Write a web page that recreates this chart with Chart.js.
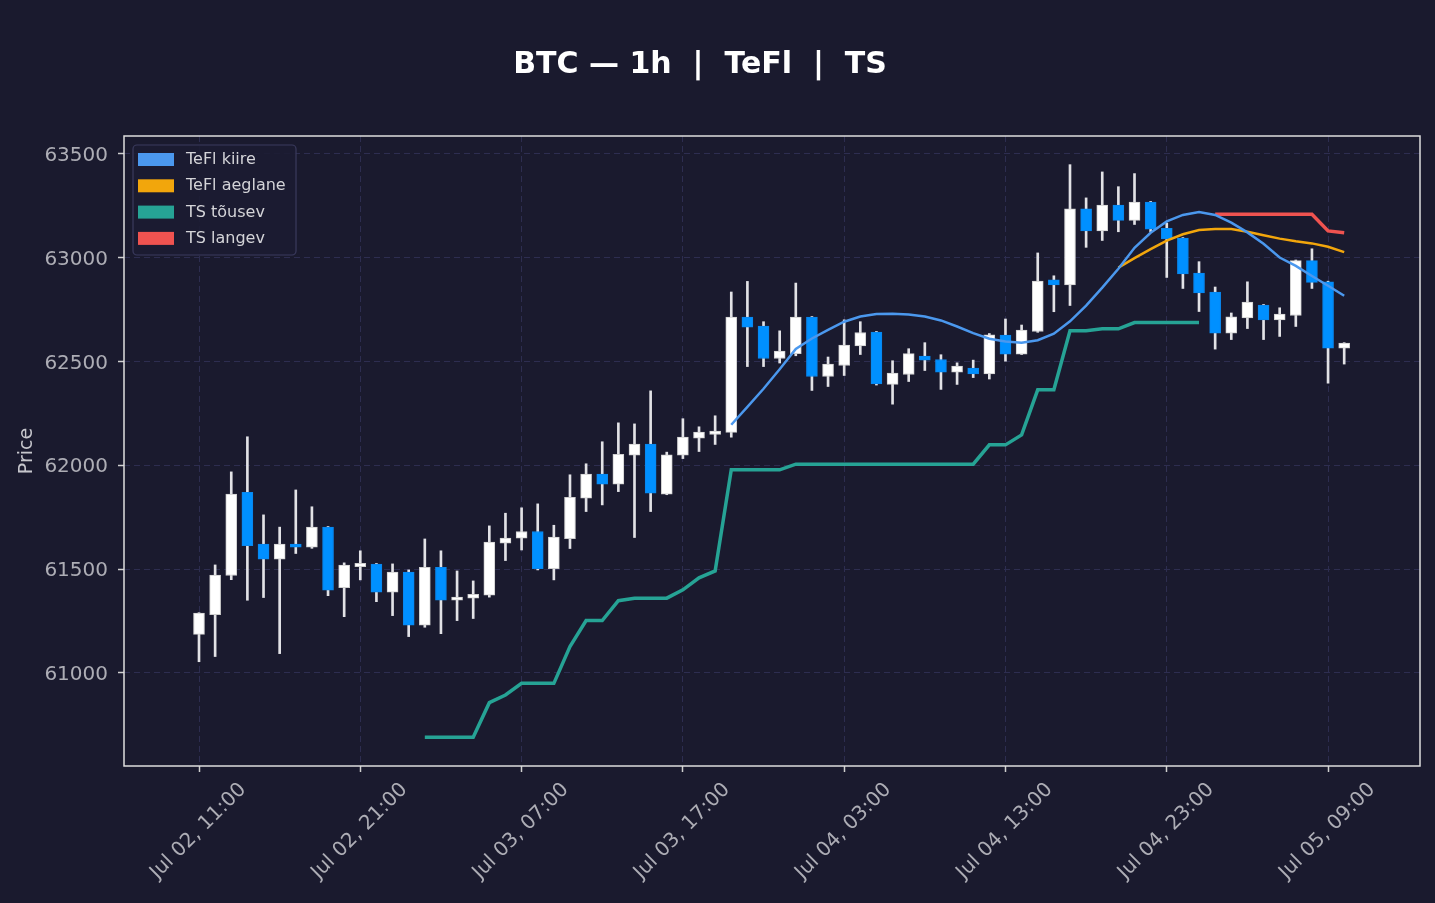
<!DOCTYPE html>
<html>
<head>
<meta charset="utf-8">
<title>BTC 1h TeFl TS</title>
<script src="https://cdn.jsdelivr.net/npm/chart.js@4.4.1/dist/chart.umd.min.js"></script>
<style>
    html, body { margin: 0; padding: 0; background: #1a1a2e; }
    #wrap { width: 1435px; height: 903px; position: relative; }
</style>
</head>
<body>
<div id="wrap"><canvas id="btcChart"></canvas></div>
<script>
// hours after Jul 02, 11:00
const hours = [0, 1, 2, 3, 4, 5, 6, 7, 8, 9, 10, 11, 12, 13, 14, 15, 16, 17, 18, 19,
    20, 21, 22, 23, 24, 25, 26, 27, 28, 29, 30, 31, 32, 33, 34, 35, 36, 37, 38, 39,
    40, 41, 42, 43, 44, 45, 46, 47, 48, 49, 50, 51, 52, 53, 54, 55, 56, 57, 58, 59,
    60, 61, 62, 63, 64, 65, 66, 67, 68, 69, 70, 71];

const openVals = [61186, 61281, 61469, 61870, 61620, 61548, 61620, 61605, 61702, 61411,
    61512, 61524, 61389, 61485, 61230, 61509, 61350, 61360, 61374, 61625,
    61649, 61681, 61502, 61647, 61842, 61957, 61909, 62049, 62102, 61861,
    62049, 62130, 62148, 62158, 62713, 62670, 62514, 62537, 62713, 62427,
    62480, 62574, 62641, 62389, 62437, 62526, 62509, 62448, 62468, 62439,
    62627, 62535, 62644, 62892, 62868, 63234, 63128, 63253, 63179, 63267,
    63141, 63094, 62925, 62834, 62636, 62709, 62771, 62699, 62721, 62985,
    62883, 62564];
const highVals = [61290, 61520, 61968, 62137, 61761, 61702, 61881, 61800, 61705, 61530,
    61588, 61527, 61525, 61496, 61645, 61588, 61491, 61443, 61708, 61769,
    61795, 61814, 61711, 61954, 62007, 62113, 62204, 62199, 62358, 62063,
    62224, 62185, 62238, 62834, 62885, 62691, 62647, 62877, 62716, 62521,
    62700, 62691, 62644, 62503, 62561, 62590, 62532, 62493, 62506, 62634,
    62704, 62675, 63022, 62912, 63447, 63287, 63412, 63341, 63404, 63270,
    63166, 63096, 62980, 62858, 62733, 62883, 62774, 62758, 62988, 63042,
    62886, 62590];
const lowVals = [61054, 61079, 61449, 61350, 61363, 61093, 61575, 61600, 61372, 61271,
    61448, 61343, 61276, 61175, 61220, 61189, 61252, 61262, 61365, 61541,
    61592, 61496, 61448, 61599, 61777, 61809, 61873, 61652, 61777, 61858,
    62032, 62066, 62100, 62135, 62475, 62475, 62492, 62527, 62360, 62379,
    62432, 62533, 62386, 62294, 62403, 62456, 62365, 62389, 62422, 62415,
    62501, 62533, 62640, 62739, 62769, 63049, 63082, 63124, 63159, 63124,
    62904, 62851, 62740, 62559, 62605, 62658, 62605, 62620, 62668, 62851,
    62395, 62487];
const closeVals = [61288, 61471, 61861, 61613, 61548, 61620, 61605, 61702, 61398, 61519,
    61528, 61389, 61485, 61230, 61509, 61350, 61365, 61379, 61630, 61649,
    61681, 61502, 61654, 61846, 61957, 61909, 62053, 62102, 61866, 62050,
    62135, 62159, 62164, 62713, 62665, 62514, 62550, 62713, 62427, 62487,
    62578, 62639, 62391, 62444, 62537, 62506, 62448, 62477, 62439, 62628,
    62535, 62651, 62887, 62868, 63234, 63128, 63253, 63179, 63267, 63137,
    63090, 62921, 62829, 62636, 62715, 62786, 62699, 62728, 62985, 62880,
    62564, 62588];

const teflFast = [null, null, null, null, null, null, null, null, null, null,
    null, null, null, null, null, null, null, null, null, null,
    null, null, null, null, null, null, null, null, null, null,
    null, null, null, 62195, 62281, 62368, 62462, 62560, 62610, 62652,
    62691, 62716, 62728, 62729, 62726, 62716, 62697, 62668, 62636, 62609,
    62596, 62590, 62602, 62633, 62693, 62768, 62855, 62946, 63047, 63119,
    63174, 63205, 63219, 63205, 63168, 63121, 63066, 63000, 62960, 62911,
    62864, 62816];
const teflSlow = [null, null, null, null, null, null, null, null, null, null,
    null, null, null, null, null, null, null, null, null, null,
    null, null, null, null, null, null, null, null, null, null,
    null, null, null, null, null, null, null, null, null, null,
    null, null, null, null, null, null, null, null, null, null,
    null, null, null, null, null, null, null, 62951, 62997, 63040,
    63081, 63112, 63132, 63137, 63137, 63124, 63107, 63091, 63078, 63068,
    63052, 63026];
const tsUp = [null, null, null, null, null, null, null, null, null, null,
    null, null, null, null, 60690, 60690, 60690, 60690, 60857, 60894,
    60950, 60950, 60950, 61127, 61252, 61252, 61348, 61360, 61360, 61360,
    61400, 61458, 61491, 61978, 61978, 61978, 61978, 62005, 62005, 62005,
    62005, 62005, 62005, 62005, 62005, 62005, 62005, 62005, 62005, 62098,
    62098, 62146, 62363, 62363, 62647, 62647, 62657, 62657, 62687, 62687,
    62687, 62687, 62687, null, null, null, null, null, null, null,
    null, null];
const tsDown = [null, null, null, null, null, null, null, null, null, null,
    null, null, null, null, null, null, null, null, null, null,
    null, null, null, null, null, null, null, null, null, null,
    null, null, null, null, null, null, null, null, null, null,
    null, null, null, null, null, null, null, null, null, null,
    null, null, null, null, null, null, null, null, null, null,
    null, null, null, 63208, 63208, 63208, 63208, 63208, 63208, 63208,
    63128, 63119];

const seriesNames = ['TeFl kiire', 'TeFl aeglane', 'TS tõusev', 'TS langev'];
const seriesColors = ['#4b98ee', '#f2a60c', '#26a395', '#ef5350'];
const yTicks = [61000, 61500, 62000, 62500, 63000, 63500];
const xTickHours = [0, 10, 20, 30, 40, 50, 60, 70];
const months = ['Jan', 'Feb', 'Mar', 'Apr', 'May', 'Jun', 'Jul', 'Aug', 'Sep', 'Oct', 'Nov', 'Dec'];
const chartTitle = 'BTC — 1h  |  TeFl  |  TS';

function pad(n) {
    return n < 10 ? '0' + n : '' + n;
}

function hourLabel(h) {
    const total = 11 + h;
    const day = 2 + Math.floor(total / 24);
    return months[6] + ' ' + pad(day) + ', ' + pad(total % 24) + ':00';
}

function toPoints(values) {
    return hours.map((h, i) => ({ x: h, y: values[i] }));
}

const bodyData = hours.map((h, i) => ({ x: h, y: [openVals[i], closeVals[i]] }));
const wickData = hours.map((h, i) => ({ x: h, y: [lowVals[i], highVals[i]] }));
const bodyFill = hours.map((h, i) => closeVals[i] >= openVals[i] ? '#ffffff' : '#0090ff');
const bodyEdge = hours.map((h, i) => closeVals[i] >= openVals[i] ? '#cfcfcf' : '#0a86ec');

// title, frame and boxed legend inside the plot
const decorPlugin = {
    id: 'decor',
    afterDraw(chart) {
        const ctx = chart.ctx;
        const area = chart.chartArea;
        ctx.save();

        ctx.strokeStyle = '#dedede';
        ctx.lineWidth = 1.5;
        ctx.strokeRect(area.left, area.top, area.right - area.left, area.bottom - area.top);

        ctx.fillStyle = '#ffffff';
        ctx.font = 'bold 30px "DejaVu Sans"';
        ctx.textAlign = 'center';
        ctx.textBaseline = 'alphabetic';
        ctx.fillText(chartTitle, 700, 73);

        const bx = area.left + 9, by = area.top + 9, bw = 163, bh = 110;
        ctx.beginPath();
        ctx.roundRect(bx, by, bw, bh, 4);
        ctx.fillStyle = 'rgba(28, 28, 50, 0.9)';
        ctx.fill();
        ctx.strokeStyle = '#3b3b5e';
        ctx.lineWidth = 1.2;
        ctx.stroke();

        ctx.font = '16px "DejaVu Sans"';
        ctx.textAlign = 'left';
        ctx.textBaseline = 'middle';
        seriesNames.forEach((name, i) => {
            const cy = by + 14.5 + i * 26.3;
            ctx.fillStyle = seriesColors[i];
            ctx.fillRect(bx + 5, cy - 6.5, 36, 13);
            ctx.fillStyle = '#d4d4d8';
            ctx.fillText(name, bx + 53, cy + 0.5);
        });

        ctx.restore();
    }
};

Chart.defaults.font.family = '"DejaVu Sans", sans-serif';

const lineSets = [teflFast, teflSlow, tsUp, tsDown].map((values, i) => ({
    type: 'line',
    label: seriesNames[i],
    data: toPoints(values),
    borderColor: seriesColors[i],
    borderWidth: i < 2 ? 2.5 : 3.5,
    pointRadius: 0,
    fill: false,
    tension: 0,
    order: 0
}));

new Chart(document.getElementById('btcChart'), {
    type: 'bar',
    data: {
        datasets: lineSets.concat([
            {
                type: 'bar',
                label: 'body',
                data: bodyData,
                backgroundColor: bodyFill,
                borderColor: bodyEdge,
                borderWidth: 1,
                borderSkipped: false,
                barThickness: 11,
                minBarLength: 2,
                grouped: false,
                order: 1
            },
            {
                type: 'bar',
                label: 'wick',
                data: wickData,
                backgroundColor: '#e2e2e6',
                borderWidth: 0,
                barThickness: 2,
                grouped: false,
                order: 2
            }
        ])
    },
    options: {
        responsive: true,
        maintainAspectRatio: false,
        animation: false,
        layout: { padding: { top: 136, right: 15, left: 0, bottom: 0 } },
        plugins: {
            legend: { display: false },
            title: { display: false },
            tooltip: { enabled: false }
        },
        scales: {
            x: {
                type: 'linear',
                offset: false,
                min: -4.65,
                max: 75.7,
                afterBuildTicks: scale => { scale.ticks = xTickHours.map(v => ({ value: v })); },
                afterFit: scale => { scale.height = 137; },
                grid: {
                    offset: false,
                    color: '#2d2d50',
                    lineWidth: 1,
                    tickLength: 6,
                    tickColor: '#cfcfcf',
                    tickWidth: 1.5
                },
                border: { display: false, dash: [6, 4] },
                ticks: {
                    autoSkip: false,
                    minRotation: 45,
                    maxRotation: 45,
                    labelOffset: 44,
                    padding: 6,
                    color: '#adadb5',
                    font: { size: 20 },
                    callback: v => hourLabel(v)
                }
            },
            y: {
                min: 60552,
                max: 63585,
                afterBuildTicks: scale => { scale.ticks = yTicks.map(v => ({ value: v })); },
                afterFit: scale => { scale.width = 124; },
                grid: {
                    color: '#2d2d50',
                    lineWidth: 1,
                    tickLength: 6,
                    tickColor: '#cfcfcf',
                    tickWidth: 1.5
                },
                border: { display: false, dash: [6, 4] },
                ticks: {
                    padding: 10,
                    labelOffset: 2,
                    color: '#adadb5',
                    font: { size: 20 },
                    callback: v => String(v)
                },
                title: {
                    display: true,
                    text: 'Price',
                    color: '#c6c6cc',
                    font: { size: 19 },
                    padding: { top: 16, bottom: 0 }
                }
            }
        }
    },
    plugins: [decorPlugin]
});
</script>
</body>
</html>
